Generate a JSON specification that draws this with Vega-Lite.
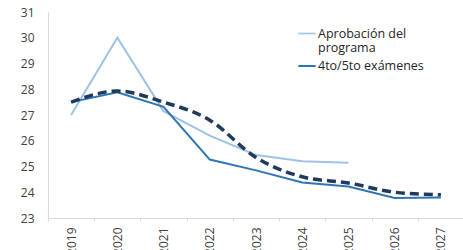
{
  "$schema": "https://vega.github.io/schema/vega-lite/v6.json",
  "width": 416,
  "height": 206,
  "autosize": {"type": "none"},
  "padding": {"left": 48, "top": 12, "right": 0, "bottom": 32},
  "background": "white",
  "config": {
    "view": {"stroke": null},
    "font": "Open Sans",
    "axis": {"labelFont": "Open Sans", "labelColor": "#404040", "labelFontSize": 12, "domainColor": "#d9d9d9", "tickColor": "#d9d9d9", "grid": false, "title": null}
  },
  "data": {
    "values": [
      {"year": "2019", "series": "Aprobación del programa", "value": 27.0},
      {"year": "2020", "series": "Aprobación del programa", "value": 30.0},
      {"year": "2021", "series": "Aprobación del programa", "value": 27.15},
      {"year": "2022", "series": "Aprobación del programa", "value": 26.2},
      {"year": "2023", "series": "Aprobación del programa", "value": 25.45},
      {"year": "2024", "series": "Aprobación del programa", "value": 25.2},
      {"year": "2025", "series": "Aprobación del programa", "value": 25.15},
      {"year": "2019", "series": "4to/5to exámenes", "value": 27.5},
      {"year": "2020", "series": "4to/5to exámenes", "value": 27.88},
      {"year": "2021", "series": "4to/5to exámenes", "value": 27.32},
      {"year": "2022", "series": "4to/5to exámenes", "value": 25.27},
      {"year": "2023", "series": "4to/5to exámenes", "value": 24.85},
      {"year": "2024", "series": "4to/5to exámenes", "value": 24.38},
      {"year": "2025", "series": "4to/5to exámenes", "value": 24.22},
      {"year": "2026", "series": "4to/5to exámenes", "value": 23.78},
      {"year": "2027", "series": "4to/5to exámenes", "value": 23.8},
      {"year": "2019", "series": "Actual", "value": 27.5},
      {"year": "2020", "series": "Actual", "value": 27.93},
      {"year": "2021", "series": "Actual", "value": 27.5},
      {"year": "2022", "series": "Actual", "value": 26.8},
      {"year": "2023", "series": "Actual", "value": 25.35},
      {"year": "2024", "series": "Actual", "value": 24.6},
      {"year": "2025", "series": "Actual", "value": 24.36},
      {"year": "2026", "series": "Actual", "value": 24.0},
      {"year": "2027", "series": "Actual", "value": 23.9}
    ]
  },
  "encoding": {
    "x": {
      "field": "year", "type": "ordinal",
      "scale": {"paddingInner": 0, "paddingOuter": 0},
      "axis": {"labelAngle": 270, "tickBand": "extent", "tickSize": 3, "labelPadding": 6, "domainWidth": 1}
    },
    "y": {
      "field": "value", "type": "quantitative",
      "scale": {"domain": [23, 31], "nice": false, "zero": false},
      "axis": {"values": [23, 24, 25, 26, 27, 28, 29, 30, 31], "tickSize": 0, "labelPadding": 14}
    }
  },
  "layer": [
    {
      "transform": [{"filter": "datum.series != 'Actual'"}],
      "mark": {"type": "line", "strokeWidth": 2},
      "encoding": {
        "color": {
          "field": "series", "type": "nominal",
          "scale": {"domain": ["Aprobación del programa", "4to/5to exámenes"], "range": ["#9dc3e6", "#2e75b6"]},
          "legend": {
            "title": null, "orient": "none", "legendX": 249, "legendY": 12,
            "labelExpr": "datum.label == 'Aprobación del programa' ? ['Aprobación del', 'programa'] : datum.label",
            "labelFontSize": 12.5, "labelColor": "#262626", "labelFont": "Open Sans",
            "symbolType": "stroke", "symbolSize": 300, "symbolStrokeWidth": 2, "labelOffset": 1, "rowPadding": 1
          }
        },
        "strokeWidth": {
          "field": "series", "type": "nominal",
          "scale": {"domain": ["Aprobación del programa", "4to/5to exámenes"], "range": [1.6, 2]},
          "legend": null
        }
      }
    },
    {
      "transform": [{"filter": "datum.series == 'Actual'"}],
      "mark": {"type": "line", "strokeWidth": 3.5, "strokeDash": [9, 5], "color": "#1f3a5a", "interpolate": "monotone"}
    }
  ]
}
